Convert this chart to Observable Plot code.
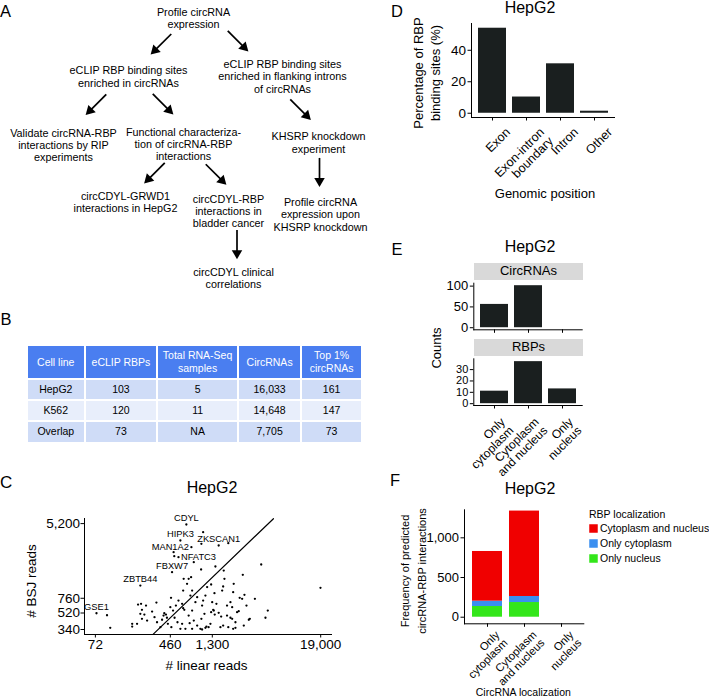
<!DOCTYPE html>
<html><head><meta charset="utf-8">
<script src="https://cdn.jsdelivr.net/npm/d3@7"></script>
<script src="https://cdn.jsdelivr.net/npm/@observablehq/plot@0.6"></script>
<style>
body{margin:0;background:#fff;}
#fig{position:relative;width:709px;height:696px;overflow:hidden;font-family:"Liberation Sans",Arial,Helvetica,sans-serif;color:#000;background:#fff;}
#fig svg{position:absolute;}
.lbl{position:absolute;font-size:16.5px;line-height:1;}
.ctr{position:absolute;transform:translate(-50%,-50%);white-space:pre;text-align:center;line-height:1;}
.rot{position:absolute;transform:translate(-50%,-50%) rotate(-90deg);white-space:pre;text-align:center;}
.strip{position:absolute;background:#d9d9d9;font-size:13px;text-align:center;}
table.tb{position:absolute;border-collapse:separate;border-spacing:2.5px 2px;font-size:10.5px;}
table.tb td,table.tb th{padding:0;text-align:center;line-height:13px;font-weight:normal;}
table.tb th{background:#4a7ef0;color:#fff;height:32px;}
table.tb tr.r1 td,table.tb tr.r3 td{background:#cfdcf7;height:19.3px;}
table.tb tr.r2 td{background:#e8eefb;height:19px;}
</style>
</head><body>
<div id="fig"></div>
<script>
// ---------------- DATA ----------------
// Panel A: flowchart texts and links
const flowText = [
  "Profile circRNA\nexpression",
  "eCLIP RBP binding sites\nenriched in circRNAs",
  "eCLIP RBP binding sites\nenriched in flanking introns\nof circRNAs",
  "Validate circRNA-RBP\ninteractions by RIP\nexperiments",
  "Functional characteriza-\ntion of circRNA-RBP\ninteractions",
  "KHSRP knockdown\nexperiment",
  "circCDYL-GRWD1\ninteractions in HepG2",
  "circCDYL-RBP\ninteractions in\nbladder cancer",
  "Profile circRNA\nexpression upon\nKHSRP knockdown",
  "circCDYL clinical\ncorrelations"
];
const flowEdges = [[0,1],[0,2],[1,3],[1,4],[2,5],[4,6],[4,7],[5,8],[7,9]];

// Panel B: table
const tableHeader = ["Cell line","eCLIP RBPs","Total RNA-Seq\nsamples","CircRNAs","Top 1%\ncircRNAs"];
const cellLines = ["HepG2","K562","Overlap"];
const eclipRBPs = ["103","120","73"];
const rnaSeqSamples = ["5","11","NA"];
const circRNAs = ["16,033","14,648","7,705"];
const top1pct = ["161","147","73"];

// Panel C: scatter (# linear reads vs # BSJ reads)
const scatterLinear = [1036,992,1931,499,507,822,1404,985,96,104,18900,4360,
  179,179,207,223,252,228,219,242,228,202,259,293,326,311,331,360,396,413,389,375,
  423,433,472,468,460,492,528,511,563,616,632,650,549,616,668,590,640,724,696,769,
  632,756,789,856,894,789,724,822,742,894,789,968,1010,1036,1010,1096,1144,1263,1070,
  992,1124,1186,1296,1263,1349,1439,1380,1522,1589,1700,1725,1700,1755,1659,1871,2036,
  2125,1871,2036,2125,1931,2178,2304,2400,2500,2765,2720,2880,3028,2834,3210,3730,4844,
  5130,1371,2208,2178,2560,3290,2304,1241,1096,1618,1329];
const scatterBSJ = [4168,3090,3140,2489,2247,1924,1723,1595,491,355,995,1813,
  367,394,647,659,630,565,509,500,448,394,428,540,681,467,410,361,517,500,487,437,
  460,394,361,769,604,554,630,460,717,659,589,565,410,394,346,346,1255,1255,1103,1308,
  927,815,927,687,781,554,487,428,400,376,346,346,340,717,630,815,1013,1083,509,
  448,367,361,687,531,554,659,500,523,361,376,1551,1029,1255,927,630,687,
  604,487,460,448,361,346,410,531,545,1391,750,831,630,376,437,750,460,
  554,866,1103,889,769,448,355,394,355,474,565];
const geneNames = ["CDYL","HIPK3","ZKSCAN1","MAN1A2","NFATC3","FBXW7","ZBTB44","GSE1"];
const geneLinear = [684,590,1522,775,563,480,219,74];
const geneBSJ = [5080,3366,2958,2832,2190,1488,1054,517];
const cXTicks = [72,460,1300,19000];
const cYTicks = [340,520,760,5200];
const identityRange = [300,5900];

// Panel D
const dCats = ["Exon","Exon-intron\nboundary","Intron","Other"];
const dPercent = [54,10.3,31.4,1.3];

// Panel E
const eCats = ["Only\ncytoplasm","Cytoplasm\nand nucleus","Only\nnucleus"];
const eCircRNAs = [56,101,0];
const eRBPs = [11,37,13];

// Panel F
const fRbpCats = ["Cytoplasm and nucleus","Only cytoplasm","Only nucleus"];
const fCytoNuc = [626,1076,0];
const fOnlyCyto = [67,76,0];
const fOnlyNuc = [135,185,0];
const fColors = ["#f00000","#3a8ff0","#33e61a"];

// ---------------- LAYOUT ----------------
const FONT = '"Liberation Sans", Arial, Helvetica, sans-serif';
const fig = document.getElementById("fig");
const flowLayout = [[193,17.5],[128,76],[282,76],[63,144.5],[183,143.5],[318,142],[125,201.5],[228,210.5],[320,214],[233,277.5]];
const flowNudge = [0,0,0,7,0,0,10,0,6];
const genePlacement = ["above","above","above","left","right","above","above","above"];
const cXDom = [55,25450], cYDom = [299,5930];
const dYDom = [-2.7,57], eTopDom = [-5,107], eBotDom = [-1.6,39.5], fYDom = [-83,1353];

function put(el, left, top){ el.style.left = left+"px"; el.style.top = top+"px"; fig.appendChild(el); return el; }
function div(cls, text, left, top, extra){ const d = document.createElement("div"); d.className = cls; d.textContent = text; if (extra) Object.assign(d.style, extra); return put(d, left, top); }
const st = (fs) => ({fontFamily: FONT, fontSize: fs+"px", color: "#000", background: "transparent", overflow: "visible", maxWidth: "none"});
const fmt = d3.format(",");

// axis helpers for the ggplot-like "classic" axes
function classicBand(yDom, yTicks, yFmt, cats, lab){
  return [
    Plot.ruleY([yDom[0]], {stroke:"#000", strokeWidth:1}),
    Plot.frame({anchor:"left", stroke:"#000", strokeWidth:1}),
    Plot.axisX({tickSize:3.5, tickFormat:()=>"", label:null, stroke:"#000"}),
    Plot.axisY({ticks:yTicks, tickFormat:yFmt, tickSize:3.5, tickPadding:2, label:null, stroke:"#000", fill:"#000"}),
    lab ? Plot.text(cats, {x:d=>d, text:d=>d, frameAnchor:"bottom", rotate:-45, textAnchor:"end", lineAnchor:"top",
      dx:lab.dx, dy:lab.dy, fontSize:lab.fs, lineHeight:1.02, fill:"#000"}) : null
  ];
}

// ---------------- PANEL A ----------------
const LH = 12.3;
const nodes = flowText.map((t,i)=>({text:t, x:flowLayout[i][0], y:flowLayout[i][1], n:t.split("\n").length}));
const arrows = flowEdges.map(([a,b],i)=>{
  const A = nodes[a], B = nodes[b];
  const x0 = A.x, y0 = A.y + A.n*LH/2, x1 = B.x, y1 = B.y - B.n*LH/2;
  const dx = x1 - x0;
  const ux = dx > 8 ? Math.SQRT1_2 : dx < -8 ? -Math.SQRT1_2 : 0;
  const uy = ux ? Math.SQRT1_2 : 1;
  const mx = (x0+x1)/2 + flowNudge[i], my = (y0+y1)/2 - 3, half = 14.5;
  return {sx: mx-ux*half, sy: my-uy*half, ex: mx+ux*half, ey: my+uy*half, ux, uy};
});
const pA = Plot.plot({
  width: 370, height: 295, margin: 0,
  x: {domain:[0,370], range:[0,370], axis:null},
  y: {domain:[0,295], range:[0,295], axis:null},
  style: st(10.8),
  marks: [
    Plot.text(nodes, {x:"x", y:"y", text:"text", fontSize:10.8, lineHeight:1.14, fill:"#000"}),
    Plot.link(arrows, {x1:"sx", y1:"sy", x2:d=>d.ex-d.ux*5, y2:d=>d.ey-d.uy*5, stroke:"#000", strokeWidth:1.7}),
    Plot.dot(arrows, {x:d=>d.ex-d.ux*5.9, y:d=>d.ey-d.uy*5.9, symbol:"triangle", r:3.9, fill:"#000", stroke:null,
      rotate:d=>Math.atan2(d.ux,-d.uy)*180/Math.PI})
  ]
});
put(pA, 0, 0);

// ---------------- PANEL B (table) ----------------
const tb = document.createElement("table"); tb.className = "tb";
const colW = [56,70.3,79,61,59];
let html = "<tr>" + tableHeader.map((h,i)=>`<th style="width:${colW[i]}px">${h.replace("\n","<br>")}</th>`).join("") + "</tr>";
cellLines.forEach((c,i)=>{
  html += `<tr class="r${i+1}"><td>${c}</td><td>${eclipRBPs[i]}</td><td>${rnaSeqSamples[i]}</td><td>${circRNAs[i]}</td><td>${top1pct[i]}</td></tr>`;
});
tb.innerHTML = html;
put(tb, 25.8, 344);

// ---------------- PANEL C ----------------
const pts = scatterLinear.map((x,i)=>({x, y:scatterBSJ[i]}));
const genes = geneNames.map((g,i)=>({g, x:geneLinear[i], y:geneBSJ[i], p:genePlacement[i]}));
const cW = 350, cH = 174, cML = 84, cMR = 18, cMT = 18, cMB = 40;
const pC = Plot.plot({
  width: cW, height: cH, marginLeft: cML, marginRight: cMR, marginTop: cMT, marginBottom: cMB,
  x: {type:"log", domain:cXDom, axis:null},
  y: {type:"log", domain:cYDom, axis:null},
  style: st(13.5),
  marks: [
    Plot.ruleY([cYDom[0]], {stroke:"#000"}),
    Plot.ruleX([cXDom[0]], {stroke:"#000"}),
    Plot.ruleX(cXTicks, {x:d=>d, insetTop:cH-cMT-cMB, insetBottom:-3.5, stroke:"#000"}),
    Plot.ruleY(cYTicks, {y:d=>d, insetRight:cW-cML-cMR, insetLeft:-3.5, stroke:"#000"}),
    Plot.text(cXTicks, {x:d=>d, text:d=>fmt(d), frameAnchor:"bottom", lineAnchor:"top", dy:5, fontSize:13.5, fill:"#000"}),
    Plot.text(cYTicks, {y:d=>d, text:d=>fmt(d), frameAnchor:"left", textAnchor:"end", dx:-4.5, fontSize:13.5, fill:"#000"}),
    Plot.line(identityRange, {x:d=>d, y:d=>d, stroke:"#000", strokeWidth:1.2}),
    Plot.dot(pts, {x:"x", y:"y", r:1.15, fill:"#000"}),
    Plot.dot(genes, {x:"x", y:"y", r:1.15, fill:"#000"}),
    Plot.text(genes.filter(d=>d.p==="above"), {x:"x", y:"y", text:"g", dy:-6.3, fontSize:9.3, fill:"#000"}),
    Plot.text(genes.filter(d=>d.p==="left"), {x:"x", y:"y", text:"g", dx:-2.5, dy:-0.5, textAnchor:"end", fontSize:9.3, fill:"#000"}),
    Plot.text(genes.filter(d=>d.p==="right"), {x:"x", y:"y", text:"g", dx:2.5, dy:-0.5, textAnchor:"start", fontSize:9.3, fill:"#000"})
  ]
});
put(pC, 0, 500);

// ---------------- PANEL D ----------------
const dData = dCats.map((c,i)=>({c, v:dPercent[i]}));
const pD = Plot.plot({
  width: 240, height: 240, marginLeft: 81, marginRight: 15, marginTop: 23, marginBottom: 123,
  x: {type:"band", domain:dCats, paddingInner:0.175, paddingOuter:0.19},
  y: {domain:dYDom},
  style: st(13.5),
  marks: [
    Plot.barY(dData, {x:"c", y:"v", fill:"#1a1f1f"}),
    ...classicBand(dYDom, [0,20,40], null, dCats, {dx:12, dy:9, fs:12.5})
  ]
});
put(pD, 390, 0);

// ---------------- PANEL E ----------------
const eTop = Plot.plot({
  width: 210, height: 60, marginLeft: 83.3, marginRight: 17.3, marginTop: 2.7, marginBottom: 10.7,
  x: {type:"band", domain:eCats, paddingInner:0.175, paddingOuter:0.19},
  y: {domain:eTopDom},
  style: st(13),
  marks: [
    Plot.barY(eCats.map((c,i)=>({c, v:eCircRNAs[i]})), {x:"c", y:"v", fill:"#1a1f1f"}),
    ...classicBand(eTopDom, [0,50,100], null, eCats, null)
  ]
});
put(eTop, 390, 280);
const eBot = Plot.plot({
  width: 210, height: 125, marginLeft: 83.3, marginRight: 17.3, marginTop: 3.3, marginBottom: 75,
  x: {type:"band", domain:eCats, paddingInner:0.175, paddingOuter:0.19},
  y: {domain:eBotDom},
  style: st(11),
  marks: [
    Plot.barY(eCats.map((c,i)=>({c, v:eRBPs[i]})), {x:"c", y:"v", fill:"#1a1f1f"}),
    ...classicBand(eBotDom, [0,10,20,30], null, eCats, {dx:5, dy:11, fs:12})
  ]
});
put(eBot, 390, 355);

// ---------------- PANEL F ----------------
const fData = [];
eCats.forEach((c,i)=>{
  fData.push({c, r:fRbpCats[2], n:fOnlyNuc[i]});
  fData.push({c, r:fRbpCats[1], n:fOnlyCyto[i]});
  fData.push({c, r:fRbpCats[0], n:fCytoNuc[i]});
});
const pF = Plot.plot({
  width: 200, height: 190, marginLeft: 74, marginRight: 5.7, marginTop: 14.3, marginBottom: 61.7,
  x: {type:"band", domain:eCats, paddingInner:0.2, paddingOuter:0.2},
  y: {domain:fYDom},
  color: {domain:fRbpCats, range:fColors},
  style: st(13),
  marks: [
    Plot.barY(fData, {x:"c", y:"n", fill:"r", order:[fRbpCats[2],fRbpCats[1],fRbpCats[0]]}),
    ...classicBand(fYDom, [0,500,1000], fmt, eCats, {dx:7, dy:6, fs:11.2})
  ]
});
put(pF, 390, 495);
const pLeg = Plot.plot({
  width: 124, height: 45, margin: 0, marginLeft: 8,
  y: {type:"point", domain:fRbpCats, padding:0.5, axis:null},
  color: {domain:fRbpCats, range:fColors},
  style: st(10.5),
  marks: [
    Plot.dot(fRbpCats, {y:d=>d, fill:d=>d, symbol:"square", r:4.8, frameAnchor:"left"}),
    Plot.text(fRbpCats, {y:d=>d, text:d=>d, frameAnchor:"left", dx:6.5, textAnchor:"start", fill:"#000", fontSize:10.5})
  ]
});
put(pLeg, 585, 520);

// ---------------- TEXT: letters, titles, axis titles ----------------
div("lbl","A",0,3); div("lbl","B",0.5,311); div("lbl","C",0,474,{fontSize:"17px"});
div("lbl","D",391,3); div("lbl","E",391.5,241); div("lbl","F",390,471.5);
div("ctr","HepG2",212,487.5,{fontSize:"16px"});
div("ctr","HepG2",530,8,{fontSize:"16px"});
div("ctr","HepG2",530,246.5,{fontSize:"16px"});
div("ctr","HepG2",530,489,{fontSize:"16px"});
div("ctr","# linear reads",206.5,666,{fontSize:"13.5px"});
div("rot","# BSJ reads",32.3,581,{fontSize:"13.5px",lineHeight:"1"});
div("ctr","Genomic position",545,193,{fontSize:"13px"});
div("rot","Percentage of RBP\nbinding sites (%)",428.3,73.3,{fontSize:"13px",lineHeight:"16.7px"});
div("rot","Counts",436,348.3,{fontSize:"13px",lineHeight:"1"});
div("rot","Frequency of predicted\ncircRNA-RBP interactions",414,571,{fontSize:"11px",lineHeight:"17px"});
div("ctr","CircRNA localization",523.3,691.5,{fontSize:"10.5px"});
div("ctr","RBP localization",589,514.3,{fontSize:"10.5px",transform:"translate(0,-50%)"});
div("strip","CircRNAs",474,263,{width:"109px",height:"16.5px",lineHeight:"16.5px"});
div("strip","RBPs",474,339,{width:"109px",height:"16.7px",lineHeight:"16.7px"});
</script>
</body></html>
